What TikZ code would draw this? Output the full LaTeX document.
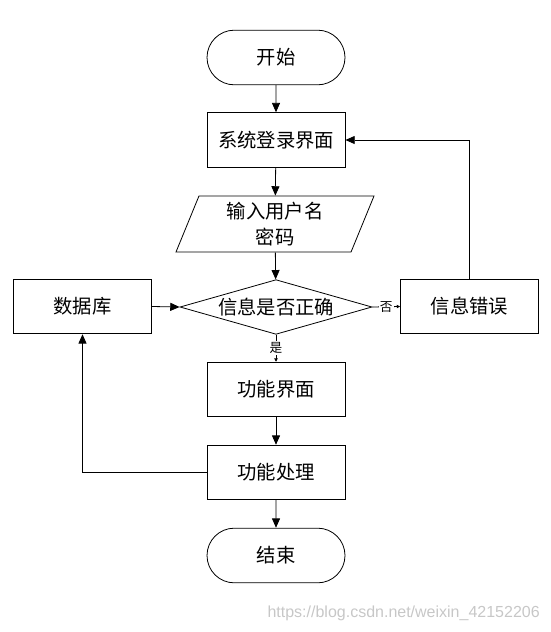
\documentclass[tikz,border=0pt]{standalone}
\usepackage{fontspec}
\setmainfont{Noto Sans CJK SC}
\newfontfamily\wmfont{Liberation Sans}
\usetikzlibrary{arrows.meta}
\usetikzlibrary{shapes.geometric}
\usetikzlibrary{shapes.misc}

\tikzset{
  procbox/.style={draw, line width=0.6pt, minimum width=103.5pt, minimum height=41pt, inner sep=0pt, font=\fontsize{14.5}{17}\selectfont},
  termbox/.style={procbox, rounded rectangle},
  iobox/.style={procbox, trapezium, trapezium left angle=62, trapezium right angle=118, trapezium stretches body, minimum width=148.5pt, minimum height=42pt, align=center, font=\fontsize{14.5}{19}\selectfont},
  testbox/.style={procbox, diamond, aspect=3.5, minimum width=144pt, minimum height=41pt},
  flowline/.style={line width=0.6pt, -{Triangle[length=7pt,width=6pt]}},
  tinyline/.style={line width=0.6pt, -{Triangle[length=2.5pt,width=2.5pt]}},
  choice/.style={fill=white, inner sep=1pt, font=\fontsize{9.5}{10}\selectfont}
}

\begin{document}
\begin{tikzpicture}[x=0.75pt,y=0.75pt,yscale=-1,xscale=1]
\useasboundingbox (0,0) rectangle (550,632);

% nodes
\node [termbox] (start) at (276,57.5) {开始};
\node [procbox] (login) at (276,140) {系统登录界面};
\node [iobox] (input) at (275,224) {输入用户名\\密码};
\node [testbox] (check) at (276,307) {信息是否正确};
\node [procbox] (db) at (82.5,306.5) {数据库};
\node [procbox] (err) at (469.5,306.5) {信息错误};
\node [procbox] (func) at (276,389.5) {功能界面};
\node [procbox] (work) at (276,472.5) {功能处理};
\node [termbox] (stop) at (276,555.5) {结束};

% connectors
\draw [flowline] (start) -- (login);
\draw [flowline] (login) -- (input);
\draw [flowline] (input) -- (check);
\draw [flowline] (db.east) -- (check.west);
\draw [tinyline] (check.east) -- node [choice] {否} (err.west);
\draw [tinyline] (check.south) -- node [choice] {是} (func.north);
\draw [flowline] (err.north) |- (login.east);
\draw [flowline] (func) -- (work);
\draw [flowline] (work) -- (stop);
\draw [flowline] (work.west) -| (db.south);

% watermark
\node [anchor=east, inner sep=0pt, text=black!22, font=\wmfont\fontsize{12}{14}\selectfont] (mark) at (540,613) {https://blog.csdn.net/weixin\_42152206};

\end{tikzpicture}
\end{document}
